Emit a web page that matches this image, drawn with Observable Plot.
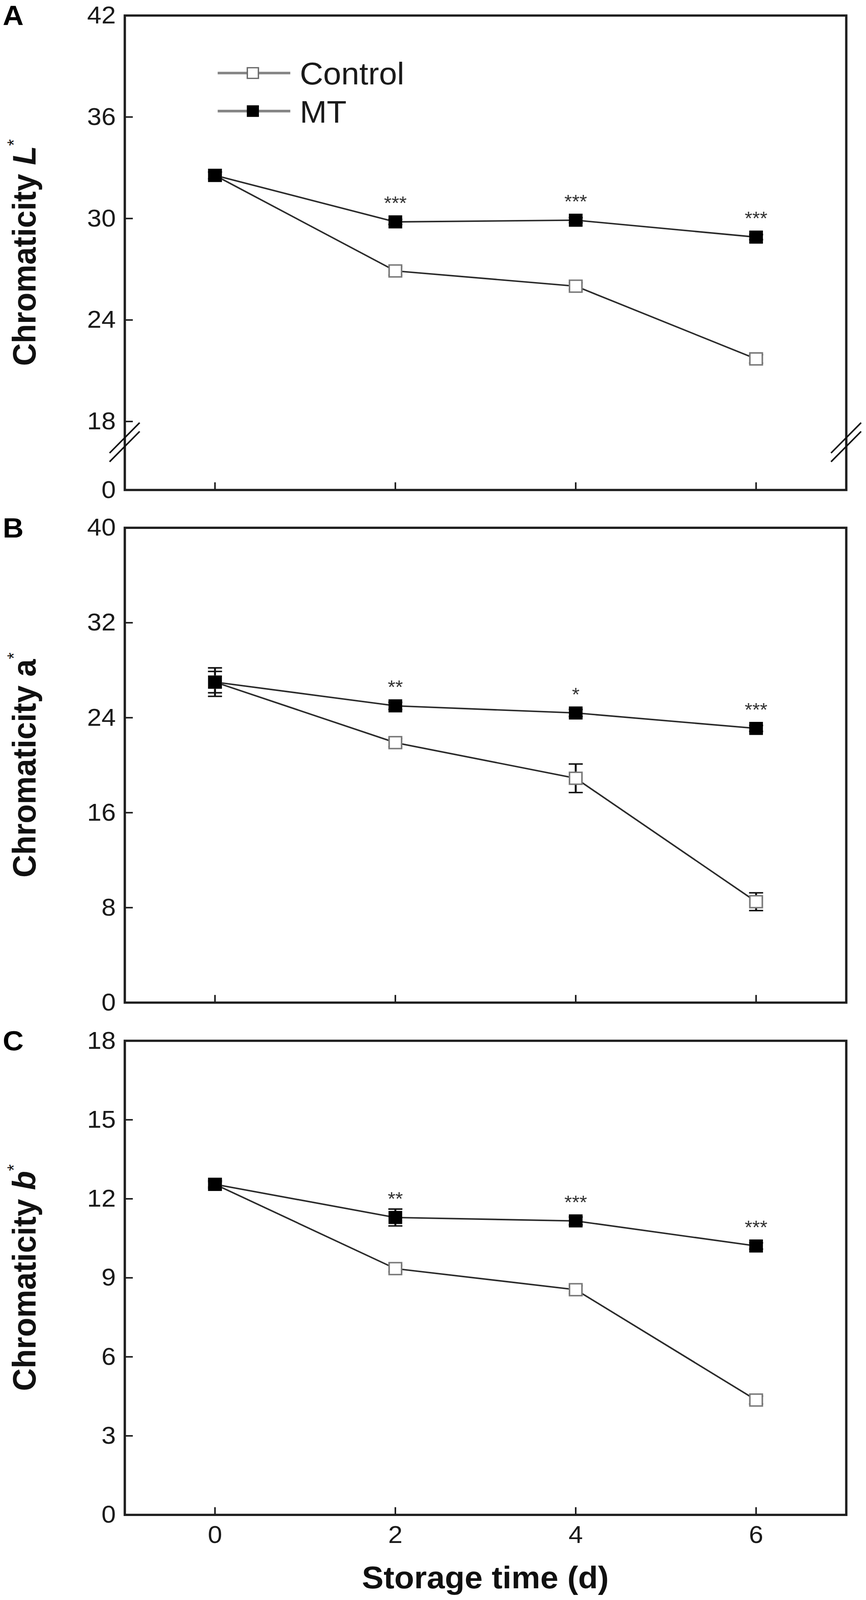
<!DOCTYPE html>
<html>
<head>
<meta charset="utf-8">
<script src="https://cdn.jsdelivr.net/npm/d3@7"></script>
<script src="https://cdn.jsdelivr.net/npm/@observablehq/plot@0.6"></script>
<style>
  html, body { margin: 0; padding: 0; background: #fff; overflow: hidden; }
  #chart { width: 2217px; height: 4276px; transform-origin: 0 0; }
  #chart svg { display: block; }
</style>
</head>
<body>
<div id="chart"></div>
<script>
// ---------------- data ----------------
const days = [0, 2, 4, 6];
const seriesNames = ["Control", "MT"];

// Panel A: Chromaticity L*
const L_control    = [32.55, 26.9, 26.0, 21.7];
const L_control_se = [0.2, 0.25, 0.2, 0.25];
const L_mt         = [32.55, 29.8, 29.9, 28.9];
const L_mt_se      = [0.2, 0.15, 0.15, 0.15];
const L_sig        = ["", "***", "***", "***"];
const L_ticks      = [0, 18, 24, 30, 36, 42];

// Panel B: Chromaticity a*
const a_control    = [27.0, 21.9, 18.9, 8.5];
const a_control_se = [1.2, 0.35, 1.2, 0.75];
const a_mt         = [27.0, 25.0, 24.4, 23.1];
const a_mt_se      = [0.9, 0.3, 0.3, 0.25];
const a_sig        = ["", "**", "*", "***"];
const a_ticks      = [0, 8, 16, 24, 32, 40];

// Panel C: Chromaticity b*
const b_control    = [12.55, 9.35, 8.55, 4.36];
const b_control_se = [0.1, 0.12, 0.15, 0.15];
const b_mt         = [12.55, 11.29, 11.16, 10.21];
const b_mt_se      = [0.15, 0.32, 0.15, 0.12];
const b_sig        = ["", "**", "***", "***"];
const b_ticks      = [0, 3, 6, 9, 12, 15, 18];

const xTicks = [0, 2, 4, 6];
const xDomain = [-1, 7];

// legend entries (drawn inside panel A, in its data units)
const legendLabels = ["Control", "MT"];
const legendY      = [38.6, 36.35];
const legendLineX  = [0.03, 0.835];
const legendMarkX  = 0.42;
const legendTextX  = 0.94;

// axis break of panel A: values 0..18 are compressed into a short segment
const breakDomain = [0, 18, 42];
const breakRange  = [13.95, 18, 42];
const breakValue  = 12.5;

// ---------------- helpers ----------------
const FONT = "'Liberation Sans', Arial, Helvetica, sans-serif";
const W = 2217;
const identity = v => v;
identity.invert = v => v;

function rows(control, controlSe, mt, mtSe, sig) {
  const out = [];
  days.forEach((d, i) => {
    out.push({day: d, series: seriesNames[0], value: control[i], se: controlSe[i], sig: ""});
    out.push({day: d, series: seriesNames[1], value: mt[i], se: mtSe[i], sig: sig[i]});
  });
  return out;
}

const capSymbol = {
  draw(context) { context.moveTo(-18, 0); context.lineTo(18, 0); }
};

function panel(cfg) {
  const tf = cfg.tf || identity;
  const data = rows(cfg.control, cfg.controlSe, cfg.mt, cfg.mtSe, cfg.sig);
  const ctrl = data.filter(d => d.series === "Control");
  const mt = data.filter(d => d.series === "MT");
  const Y = d => tf(d.value);

  const marks = [
    Plot.axisY({ticks: cfg.yTicks.map(tf), tickSize: -21, tickPadding: 44, fontSize: 66,
      strokeWidth: 4, label: null, tickFormat: u => String(Math.round(tf.invert(u)))}),
    Plot.axisX({ticks: xTicks, tickSize: -20, tickPadding: 48, fontSize: 66,
      strokeWidth: 4, label: null, tickFormat: cfg.showX ? (d => String(d)) : (() => "")}),
    Plot.frame({stroke: "#1e1e1e", strokeWidth: 6}),
    Plot.line(data, {x: "day", y: Y, z: "series", stroke: "#2a2a2a", strokeWidth: 4}),
    Plot.ruleX(data, {x: "day", y1: d => tf(d.value - d.se), y2: d => tf(d.value + d.se), stroke: "#111", strokeWidth: 5}),
    Plot.dot(data, {x: "day", y: d => tf(d.value - d.se), symbol: capSymbol, r: 1, fill: "none", stroke: "#111", strokeWidth: 4}),
    Plot.dot(data, {x: "day", y: d => tf(d.value + d.se), symbol: capSymbol, r: 1, fill: "none", stroke: "#111", strokeWidth: 4}),
    Plot.dot(ctrl, {x: "day", y: Y, symbol: "square", r: 18, fill: "white", stroke: "#7a7a7a", strokeWidth: 4}),
    Plot.dot(mt, {x: "day", y: Y, symbol: "square", r: 19.75, fill: "black", stroke: "none"}),
    Plot.text(mt.filter(d => d.sig), {x: "day", y: Y, text: "sig", dy: -49, fontSize: 50, fill: "#333", textAnchor: "middle"})
  ];

  if (cfg.legend) {
    const leg = legendLabels.map((l, i) => ({label: l, y: tf(legendY[i])}));
    marks.push(
      Plot.link(leg, {x1: () => legendLineX[0], x2: () => legendLineX[1], y1: "y", y2: "y", stroke: "#858585", strokeWidth: 7}),
      Plot.dot(leg.filter(d => d.label === "Control"), {x: () => legendMarkX, y: "y", symbol: "square", r: 16, fill: "white", stroke: "#6a6a6a", strokeWidth: 3.5}),
      Plot.dot(leg.filter(d => d.label === "MT"), {x: () => legendMarkX, y: "y", symbol: "square", r: 17.5, fill: "black"}),
      Plot.text(leg, {x: () => legendTextX, y: "y", text: "label", textAnchor: "start", fontSize: 83, fill: "#1a1a1a", dy: 4})
    );
  }

  const chart = Plot.plot({
    width: W,
    height: cfg.height,
    marginLeft: 319,
    marginRight: 51,
    marginTop: cfg.marginTop,
    marginBottom: cfg.marginBottom,
    x: {domain: xDomain},
    y: {domain: [tf(cfg.yDomain[0]), tf(cfg.yDomain[1])]},
    style: {fontFamily: FONT, background: "white", color: "#1a1a1a", overflow: "visible"},
    marks
  });

  const svg = d3.select(chart);
  const top = cfg.marginTop, bottom = cfg.height - cfg.marginBottom;

  // panel letter
  svg.append("text")
    .attr("x", 7).attr("y", top + 26)
    .attr("text-anchor", "start")
    .attr("font-family", FONT).attr("font-weight", "bold").attr("font-size", 74)
    .attr("fill", "#000").text(cfg.letter);

  // y-axis title with italic variable and superscript star
  const t = svg.append("text")
    .attr("transform", `translate(91,${(top + bottom) / 2}) rotate(-90)`)
    .attr("text-anchor", "middle")
    .attr("font-family", FONT).attr("font-weight", "bold").attr("font-size", 84)
    .attr("fill", "#111");
  t.append("tspan").text("Chromaticity ");
  t.append("tspan").attr("font-style", cfg.italic ? "italic" : "normal").text(cfg.variable);
  t.append("tspan").attr("font-size", 46).attr("font-weight", "normal").attr("dy", -40).text("*");

  // axis break marks
  if (cfg.broken) {
    const sx = chart.scale("x"), sy = chart.scale("y");
    const yb = sy.apply(tf(breakValue));
    [xDomain[0], xDomain[1]].forEach(xv => {
      const xb = sx.apply(xv);
      [-11.7, 11.7].forEach(off => {
        svg.append("line")
          .attr("x1", xb - 38.5).attr("y1", yb + off + 40.5)
          .attr("x2", xb + 38.5).attr("y2", yb + off - 40.5)
          .attr("stroke", "#111").attr("stroke-width", 4);
      });
    });
  }

  // x-axis title
  if (cfg.xTitle) {
    svg.append("text")
      .attr("x", (319 + (W - 51)) / 2).attr("y", bottom + 197)
      .attr("text-anchor", "middle")
      .attr("font-family", FONT).attr("font-weight", "bold").attr("font-size", 83)
      .attr("fill", "#111").text(cfg.xTitle);
  }
  return chart;
}

const root = document.getElementById("chart");
const brk = d3.scaleLinear().domain(breakDomain).range(breakRange);

root.appendChild(panel({
  letter: "A", variable: "L", italic: true, tf: brk,
  control: L_control, controlSe: L_control_se, mt: L_mt, mtSe: L_mt_se, sig: L_sig,
  yTicks: L_ticks, yDomain: [0, 42],
  height: 1360, marginTop: 41, marginBottom: 51,
  legend: true, broken: true, showX: false
}));

root.appendChild(panel({
  letter: "B", variable: "a", italic: false,
  control: a_control, controlSe: a_control_se, mt: a_mt, mtSe: a_mt_se, sig: a_sig,
  yTicks: a_ticks, yDomain: [0, 40],
  height: 1370, marginTop: 50, marginBottom: 51,
  showX: false
}));

root.appendChild(panel({
  letter: "C", variable: "b", italic: true,
  control: b_control, controlSe: b_control_se, mt: b_mt, mtSe: b_mt_se, sig: b_sig,
  yTicks: b_ticks, yDomain: [0, 18],
  height: 1546, marginTop: 51, marginBottom: 228,
  showX: true, xTitle: "Storage time (d)"
}));

// fit the full 4276-px-tall figure into the visible window height
const vh = window.innerHeight || 4276;
if (vh < 4276) root.style.transform = `scale(1, ${vh / 4276})`;
</script>
</body>
</html>
